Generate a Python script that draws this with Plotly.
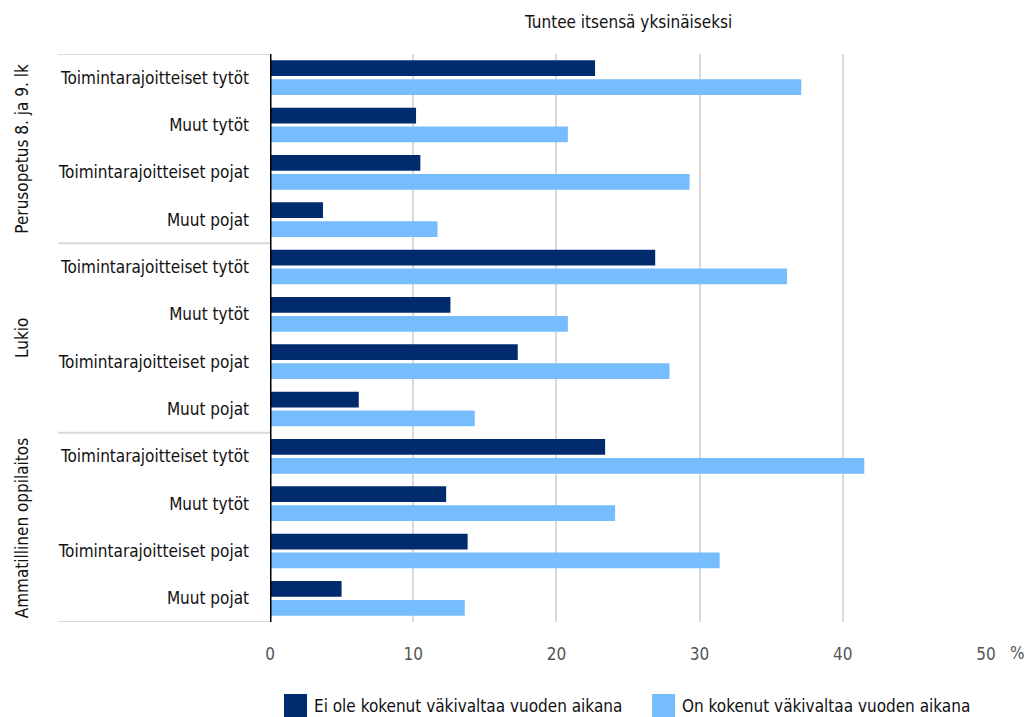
import plotly.graph_objects as go

W, H = 1027, 717
ML, MR, MT, MB = 270, 41, 54, 95
PW = W - ML - MR
PH = H - MT - MB

FONT = "Liberation Sans Narrow, DejaVu Sans Condensed, Arial Narrow, sans-serif"

title = "Tuntee itsensä yksinäiseksi"
groups = ["Perusopetus 8. ja 9. lk", "Lukio", "Ammatillinen oppilaitos"]
subcats = ["Toimintarajoitteiset tytöt", "Muut tytöt", "Toimintarajoitteiset pojat", "Muut pojat"]
series_names = ["Ei ole kokenut väkivaltaa vuoden aikana", "On kokenut väkivaltaa vuoden aikana"]
colors = ["#002b6d", "#77bcfd"]

ei_ole = [22.7, 10.2, 10.5, 3.7,
          26.9, 12.6, 17.3, 6.2,
          23.4, 12.3, 13.8, 5.0]
on_kokenut = [37.1, 20.8, 29.3, 11.7,
              36.1, 20.8, 27.9, 14.3,
              41.5, 24.1, 31.4, 13.6]

x_ticks = [0, 10, 20, 30, 40, 50]

labels = [s for g in groups for s in subcats]
ypos = list(range(len(labels)))


def px_x(p):
    return (p - ML) / PW


def px_y(p):
    return (H - MB - p) / PH


fig = go.Figure()
for name, vals, c in zip(series_names, [ei_ole, on_kokenut], colors):
    fig.add_trace(go.Bar(
        y=ypos, x=vals, orientation="h", name=name,
        marker=dict(color=c, line=dict(width=0)),
        showlegend=False,
    ))

shapes = []
# vertical axis line
shapes.append(dict(type="line", xref="x", yref="paper", x0=0, x1=0, y0=0, y1=1,
                   line=dict(color="#000000", width=3), layer="above"))
# group separator lines
n = len(subcats)
for k in range(len(groups) + 1):
    yv = k * n - 0.5
    shapes.append(dict(type="line", xref="paper", yref="y", x0=px_x(58), x1=0,
                       y0=yv, y1=yv, line=dict(color="#d9d9d9", width=2)))

annotations = []
for gi, g in enumerate(groups):
    annotations.append(dict(
        text=g, xref="paper", yref="y", x=px_x(22), y=gi * n + (n - 1) / 2,
        textangle=-90, showarrow=False, xanchor="center", yanchor="middle",
        font=dict(family=FONT, size=17, color="#111111")))

annotations.append(dict(text="%", xref="x", yref="paper", x=50, y=px_y(653),
                        xshift=31, showarrow=False, xanchor="center", yanchor="middle",
                        font=dict(family=FONT, size=17, color="#555555")))
annotations.append(dict(text=title, xref="paper", yref="paper", x=0.5, y=px_y(22),
                        showarrow=False, xanchor="center", yanchor="middle",
                        font=dict(family=FONT, size=17, color="#111111")))

# custom legend
leg = [(284, 307, 312), (652, 675, 680)]
for (x0, x1, tx), name, c in zip(leg, series_names, colors):
    shapes.append(dict(type="rect", xref="paper", yref="paper",
                       x0=px_x(x0), x1=px_x(x1), y0=px_y(717), y1=px_y(694),
                       fillcolor=c, line=dict(width=0)))
    annotations.append(dict(text=name, xref="paper", yref="paper", x=px_x(tx), y=px_y(706),
                            showarrow=False, xanchor="left", yanchor="middle",
                            font=dict(family=FONT, size=17, color="#111111")))

fig.update_layout(
    width=W, height=H,
    margin=dict(l=ML, r=MR, t=MT, b=MB, pad=0),
    paper_bgcolor="white", plot_bgcolor="white",
    barmode="group", bargap=0.2, bargroupgap=0.17,
    font=dict(family=FONT, size=17, color="#111111"),
    xaxis=dict(range=[0, 50], tickvals=x_ticks, ticktext=[str(v) for v in x_ticks],
               showgrid=True, gridcolor="#d9d9d9", gridwidth=2, zeroline=False,
               showline=False, ticks="", ticklabelstandoff=20,
               tickfont=dict(family=FONT, size=17, color="#555555")),
    yaxis=dict(tickvals=ypos, ticktext=labels, range=[len(labels) - 0.5, -0.5],
               showgrid=False, zeroline=False, showline=False, ticks="",
               ticklabelstandoff=20,
               tickfont=dict(family=FONT, size=17, color="#111111")),
    shapes=shapes, annotations=annotations,
)

fig.write_html("out.html")
